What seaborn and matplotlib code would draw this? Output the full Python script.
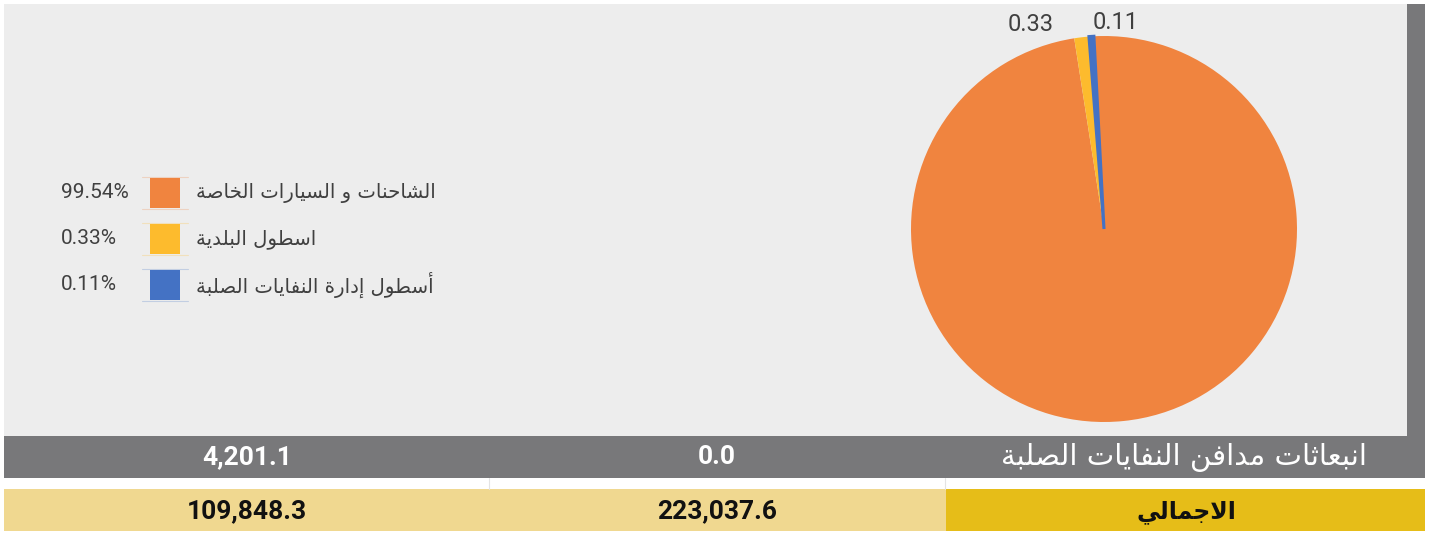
"""
Solid waste emissions share - pie + summary table (Arabic labels).
"""

import matplotlib
matplotlib.use("Agg")
import matplotlib.pyplot as plt
from matplotlib.patches import Rectangle
import seaborn as sns

# ---- data -------------------------------------------------------------
categories = ["الشاحنات و السيارات الخاصة", "اسطول البلدية", "أسطول إدارة النفايات الصلبة"]
legend_pct = [99.54, 0.33, 0.11]
# slice sizes
slice_values = [26.5, 0.33, 0.11]
slice_labels = ["", "0.33", "0.11"]

row_labels = ["انبعاثات مدافن النفايات الصلبة", "الاجمالي"]
col_left = [4201.1, 109848.3]
col_mid = [0.0, 223037.6]

# ---- style ------------------------------------------------------------
PALETTE = sns.color_palette(["#F0843F", "#FDBB2D", "#4472C4"])
BG = "#EDEDED"
GRAY = "#78787A"
LIGHT_YEL = "#F0D890"
DARK_YEL = "#E6BD18"
TXT = "#404040"

sns.set_style("white")
plt.rcParams["font.family"] = ["DejaVu Sans"]

NUM_FONT = ["Roboto", "DejaVu Sans"]

# ---- minimal arabic shaping (presentation forms + RTL) ----------------
DUAL = {"ب": 0xFE8F, "ت": 0xFE95, "ث": 0xFE99, "ج": 0xFE9D, "ح": 0xFEA1,
        "خ": 0xFEA5, "س": 0xFEB1, "ش": 0xFEB5, "ص": 0xFEB9, "ض": 0xFEBD,
        "ط": 0xFEC1, "ظ": 0xFEC5, "ع": 0xFEC9, "غ": 0xFECD, "ف": 0xFED1,
        "ق": 0xFED5, "ك": 0xFED9, "ل": 0xFEDD, "م": 0xFEE1, "ن": 0xFEE5,
        "ه": 0xFEE9, "ي": 0xFEF1}
RIGHT = {"ا": 0xFE8D, "أ": 0xFE83, "إ": 0xFE87, "آ": 0xFE81, "ة": 0xFE93,
         "د": 0xFEA9, "ذ": 0xFEAB, "ر": 0xFEAD, "ز": 0xFEAF, "و": 0xFEED,
         "ى": 0xFEEF, "\uFEFB": 0xFEFB, "\uFEF7": 0xFEF7, "\uFEF9": 0xFEF9}


def ar(text):
    t = text.replace("لا", "\uFEFB").replace("لأ", "\uFEF7").replace("لإ", "\uFEF9")
    out = []
    for i, c in enumerate(t):
        base = DUAL.get(c, RIGHT.get(c))
        if base is None:
            out.append(c)
            continue
        prev = t[i - 1] if i > 0 else ""
        nxt = t[i + 1] if i + 1 < len(t) else ""
        jp = prev in DUAL
        jn = c in DUAL and (nxt in DUAL or nxt in RIGHT)
        off = 3 if (jp and jn) else 1 if jp else 2 if jn else 0
        out.append(chr(base + off))
    return "".join(out)[::-1]


# ---- figure -----------------------------------------------------------
W, H = 1432, 533
fig = plt.figure(figsize=(W / 100, H / 100), dpi=100, facecolor="white")
bg = fig.add_axes([0, 0, 1, 1])
bg.set_xlim(0, W)
bg.set_ylim(H, 0)
bg.axis("off")

# panel + table blocks
bg.add_patch(Rectangle((4, 4), 1403, 432, color=BG, lw=0))
bg.add_patch(Rectangle((1407, 4), 18, 432, color=GRAY, lw=0))
bg.add_patch(Rectangle((4, 436), 1421, 42, color=GRAY, lw=0))
bg.add_patch(Rectangle((4, 489), 942, 42, color=LIGHT_YEL, lw=0))
bg.add_patch(Rectangle((946, 489), 479, 42, color=DARK_YEL, lw=0))
for x in (489, 945):
    bg.plot([x, x], [478, 489], color="#E4E4E4", lw=0.8)

# table text
bg.text(1367, 458, ar(row_labels[0]), ha="right", va="center",
        fontsize=21, color="white")
bg.text(1186, 512, ar(row_labels[1]), ha="center", va="center",
        fontsize=17, color="#111111", fontweight="bold")
for y, left, mid, col in [(457, col_left[0], col_mid[0], "white"),
                          (511, col_left[1], col_mid[1], "#111111")]:
    bg.text(247, y, f"{left:,.1f}", ha="center", va="center", fontsize=19,
            color=col, fontweight="bold", family=NUM_FONT)
    bg.text(717, y, f"{mid:,.1f}", ha="center", va="center", fontsize=19,
            color=col, fontweight="bold", family=NUM_FONT)

# legend
for i, (name, pct) in enumerate(zip(categories, legend_pct)):
    yc = 193 + i * 46
    c = PALETTE[i]
    bg.add_patch(Rectangle((150, yc - 15), 30, 30, color=c, lw=0))
    for yy in (yc - 16, yc + 16):
        bg.plot([142, 188], [yy, yy], color=c, alpha=0.25, lw=0.8)
    bg.text(61, yc, f"{pct:.2f}%", ha="left", va="center", fontsize=15,
            color=TXT, family=NUM_FONT)
    bg.text(196, yc, ar(name), ha="left", va="center", fontsize=14.2,
            color=TXT)

# pie
cx, cy, r = 1104, 229, 193
pie_ax = fig.add_axes([(cx - r) / W, (H - cy - r) / H, 2 * r / W, 2 * r / H])
wedges, _ = pie_ax.pie(slice_values, colors=PALETTE, startangle=93,
                       counterclock=False, radius=1,
                       wedgeprops={"linewidth": 0})
wedges[2].set_edgecolor(PALETTE[2])
wedges[2].set_linewidth(2.2)
pie_ax.set_xlim(-1, 1)
pie_ax.set_ylim(-1, 1)
pie_ax.set_aspect("equal")
pie_ax.axis("off")

pie_ax.text(-0.38, 1.06, slice_labels[1], ha="center", va="center",
            fontsize=17, color=TXT, family=NUM_FONT)
pie_ax.text(0.06, 1.07, slice_labels[2], ha="center", va="center",
            fontsize=17, color=TXT, family=NUM_FONT)

fig.savefig("out.png", dpi=100, facecolor="white")
